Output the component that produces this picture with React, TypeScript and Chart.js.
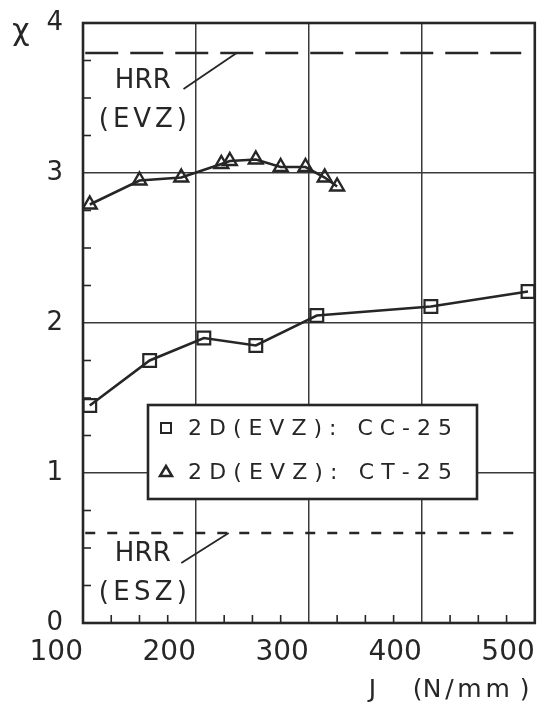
import React, { useEffect, useRef } from 'react';
import { Chart, registerables } from 'chart.js';
Chart.register(...registerables);

// ---- data ----
const ccJ = [106, 159, 207, 253, 307, 408, 494];
const ccChi = [1.45, 1.75, 1.9, 1.85, 2.05, 2.11, 2.21];
const ctJ = [106, 150, 187, 222.5, 230, 253, 275, 297, 314, 325];
const ctChi = [2.79, 2.95, 2.97, 3.06, 3.08, 3.09, 3.04, 3.04, 2.97, 2.91];
const hrrEvz = 3.8;
const hrrEsz = 0.6;
const hrrRangeJ = [102, 488];
const leaderEvzJ = [189, 236];
const leaderEvzChi = [3.56, 3.8];
const leaderEszJ = [187, 229];
const leaderEszChi = [0.4, 0.6];
const legendLabels = ['2D(EVZ): CC-25', '2D(EVZ): CT-25'];
const xMin = 100, xMax = 500, xStep = 100, xMinor = 25;
const yMin = 0, yMax = 4, yStep = 1, yMinor = 0.25;
const xTitleParts = ['J', '(', 'N/mm', ')'];
const yTitle = 'χ';

const INK = '#262626';
const GRID = '#3a3a3a';
const FONT = 'DejaVu Sans';

function drawSpaced(ctx: CanvasRenderingContext2D, text: string, x: number, y: number, target: number, align: 'left' | 'center' | 'right') {
  const chars = Array.from(text);
  const widths = chars.map((c) => ctx.measureText(c).width);
  const sum = widths.reduce((a, b) => a + b, 0);
  const gap = chars.length > 1 ? (target - sum) / (chars.length - 1) : 0;
  let start = x;
  if (align === 'center') start = x - target / 2;
  if (align === 'right') start = x - target;
  ctx.save();
  ctx.textAlign = 'left';
  let cx = start;
  chars.forEach((c, i) => {
    ctx.fillText(c, cx, y);
    cx += widths[i] + gap;
  });
  ctx.restore();
}

const decor = {
  id: 'decor',
  afterDatasetsDraw(chart: any) {
    const { ctx, chartArea: a, scales } = chart;
    const xs = scales.x, ys = scales.y;
    ctx.save();
    ctx.strokeStyle = INK;
    ctx.lineCap = 'butt';
    // minor ticks
    ctx.lineWidth = 1.6;
    for (let v = yMin + yMinor; v < yMax; v += yMinor) {
      if (Math.abs(v % 1) < 1e-6) continue;
      const py = ys.getPixelForValue(v);
      ctx.beginPath(); ctx.moveTo(a.left, py); ctx.lineTo(a.left + 8, py); ctx.stroke();
    }
    for (let v = xMin + xMinor; v < xMax; v += xMinor) {
      if (Math.abs(v % xStep) < 1e-6) continue;
      const px = xs.getPixelForValue(v);
      ctx.beginPath(); ctx.moveTo(px, a.bottom); ctx.lineTo(px, a.bottom - 8); ctx.stroke();
    }
    // frame
    ctx.lineWidth = 2.6;
    ctx.strokeRect(a.left, a.top, a.right - a.left, a.bottom - a.top);

    // HRR labels
    ctx.fillStyle = INK;
    ctx.textBaseline = 'middle';
    ctx.font = `26px "${FONT}"`;
    const lx = xs.getPixelForValue(153);
    drawSpaced(ctx, 'HRR', lx, ys.getPixelForValue(3.61), 56, 'center');
    drawSpaced(ctx, '(EVZ)', lx, ys.getPixelForValue(3.35), 88, 'center');
    drawSpaced(ctx, 'HRR', lx, ys.getPixelForValue(0.46), 56, 'center');
    drawSpaced(ctx, '(ESZ)', lx, ys.getPixelForValue(0.2), 88, 'center');

    // legend
    const bx = a.left + 65, by = a.top + 382, bw = 329, bh = 94;
    ctx.fillStyle = '#ffffff';
    ctx.fillRect(bx, by, bw, bh);
    ctx.lineWidth = 2.6;
    ctx.strokeRect(bx, by, bw, bh);
    ctx.fillStyle = INK;
    ctx.font = `22px "${FONT}"`;
    const rows = [by + 23, by + 67];
    ctx.lineWidth = 2;
    ctx.strokeRect(bx + 13, rows[0] - 5, 10, 10);
    ctx.beginPath();
    ctx.moveTo(bx + 18, rows[1] - 6);
    ctx.lineTo(bx + 24, rows[1] + 4);
    ctx.lineTo(bx + 12, rows[1] + 4);
    ctx.closePath();
    ctx.lineWidth = 2.5;
    ctx.stroke();
    legendLabels.forEach((t, i) => drawSpaced(ctx, t, bx + 40, rows[i] + 1, 264, 'left'));

    // x-axis title, right-aligned under the axis
    ctx.font = `25px "${FONT}"`;
    const ty = a.bottom + 67;
    const r = a.right;
    ctx.textAlign = 'left';
    ctx.fillText(xTitleParts[0], r - 166, ty);
    ctx.fillText(xTitleParts[1], r - 122, ty);
    drawSpaced(ctx, xTitleParts[2], r - 112, ty, 87, 'left');
    ctx.fillText(xTitleParts[3], r - 15, ty);
    // y-axis title
    ctx.font = `30px "${FONT}"`;
    ctx.textAlign = 'center';
    ctx.fillText(yTitle, 21, 32);
    ctx.restore();
  },
};

const zeroPad = (s: any) => {
  s.paddingTop = 0; s.paddingBottom = 0; s.paddingLeft = 0; s.paddingRight = 0;
};

export default function App() {
  const ref = useRef<HTMLCanvasElement>(null);
  useEffect(() => {
    const pts = (xs: number[], ys: number[]) => xs.map((x, i) => ({ x, y: ys[i] }));
    const chart = new Chart(ref.current as HTMLCanvasElement, {
      type: 'line',
      data: {
        datasets: [
          {
            label: legendLabels[0],
            data: pts(ccJ, ccChi),
            borderColor: INK,
            borderWidth: 2.6,
            pointStyle: 'rect',
            pointRadius: 9,
            pointBorderWidth: 2.2,
            pointBorderColor: INK,
            pointBackgroundColor: 'rgba(255,255,255,0)',
            tension: 0,
          },
          {
            label: legendLabels[1],
            data: pts(ctJ, ctChi),
            borderColor: INK,
            borderWidth: 2.6,
            pointStyle: 'triangle',
            pointRadius: 8,
            pointBorderWidth: 2.4,
            pointBorderColor: INK,
            pointBackgroundColor: 'rgba(255,255,255,0)',
            tension: 0,
          },
          {
            label: 'HRR (EVZ)',
            data: pts(hrrRangeJ, [hrrEvz, hrrEvz]),
            borderColor: INK,
            borderWidth: 2.4,
            borderDash: [33, 12],
            pointRadius: 0,
          },
          {
            label: 'HRR (ESZ)',
            data: pts(hrrRangeJ, [hrrEsz, hrrEsz]),
            borderColor: INK,
            borderWidth: 2.4,
            borderDash: [10, 12],
            pointRadius: 0,
          },
          {
            label: 'leader EVZ',
            data: pts(leaderEvzJ, leaderEvzChi),
            borderColor: INK,
            borderWidth: 1.8,
            pointRadius: 0,
          },
          {
            label: 'leader ESZ',
            data: pts(leaderEszJ, leaderEszChi),
            borderColor: INK,
            borderWidth: 1.8,
            pointRadius: 0,
          },
        ],
      },
      options: {
        responsive: false,
        animation: false,
        devicePixelRatio: 1,
        layout: { padding: { top: 23, right: 6, left: 0, bottom: 0 } },
        plugins: { legend: { display: false }, tooltip: { enabled: false } },
        scales: {
          x: {
            type: 'linear',
            min: xMin,
            max: xMax,
            afterFit: (s: any) => { s.height = 89; zeroPad(s); },
            ticks: {
              stepSize: xStep,
              align: 'end',
              maxRotation: 0,
              autoSkip: false,
              padding: 13,
              color: INK,
              font: { family: FONT, size: 28 },
            },
            grid: { color: GRID, lineWidth: 1.5, drawTicks: false },
            border: { display: false },
          },
          y: {
            type: 'linear',
            min: yMin,
            max: yMax,
            afterFit: (s: any) => { s.width = 83; zeroPad(s); },
            ticks: {
              stepSize: yStep,
              padding: 20,
              color: INK,
              font: { family: FONT, size: 26 },
            },
            grid: { color: GRID, lineWidth: 1.5, drawTicks: false },
            border: { display: false },
          },
        },
      } as any,
      plugins: [decor],
    });
    return () => chart.destroy();
  }, []);
  return (
    <div style={{ position: 'absolute', left: 0, top: 0, width: 546, height: 712, background: '#fff' }}>
      <canvas ref={ref} width={546} height={712} style={{ display: 'block' }} />
    </div>
  );
}
